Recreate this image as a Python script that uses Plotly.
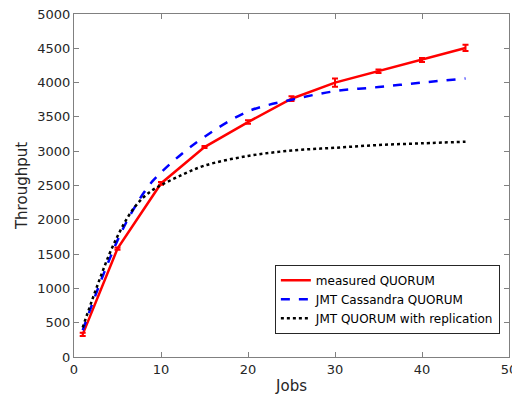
import plotly.graph_objects as go

jobs_meas = [1, 5, 10, 15, 20, 25, 30, 35, 40, 45]
thr_meas = [330, 1580, 2530, 3060, 3425, 3765, 4000, 4165, 4330, 4505]
err_meas = [25, 15, 20, 15, 25, 35, 60, 25, 30, 45]

jobs_model = [1, 2, 3, 4, 5, 6, 7, 8, 9, 10, 12, 15, 20, 25, 30, 35, 40, 45]
thr_cass = [390, 740, 1080, 1400, 1700, 1960, 2190, 2390, 2560, 2690, 2920, 3210, 3580, 3750, 3875, 3935, 4000, 4060]
thr_repl = [430, 800, 1150, 1480, 1760, 2000, 2190, 2330, 2430, 2505, 2630, 2790, 2930, 3010, 3050, 3090, 3115, 3138]

x_ticks = [0, 10, 20, 30, 40, 50]
y_ticks = [0, 500, 1000, 1500, 2000, 2500, 3000, 3500, 4000, 4500, 5000]

fig = go.Figure()
fig.add_trace(go.Scatter(
    x=jobs_meas, y=thr_meas, mode="lines", name="measured QUORUM",
    line=dict(color="#ff0000", width=2.5),
    error_y=dict(type="data", array=err_meas, color="#ff0000", thickness=2, width=3),
))
fig.add_trace(go.Scatter(
    x=jobs_model, y=thr_cass, mode="lines", name="JMT Cassandra QUORUM",
    line=dict(color="#0000ff", width=2.5, dash="dash", shape="spline"),
))
fig.add_trace(go.Scatter(
    x=jobs_model, y=thr_repl, mode="lines", name="JMT QUORUM with replication",
    line=dict(color="#000000", width=2.5, dash="dot", shape="spline"),
))

axis_common = dict(
    showgrid=False, zeroline=False, showline=True, linecolor="#808080", linewidth=1,
    mirror="ticks", ticks="inside", ticklen=5, tickcolor="#808080", automargin=False,
    ticklabeloverflow="allow",
    tickfont=dict(family="DejaVu Sans", size=13, color="#262626"),
)
fig.update_xaxes(range=[0, 50], tickvals=x_ticks,
                 title=dict(text="Jobs", font=dict(family="DejaVu Sans", size=15, color="#262626"), standoff=4),
                 **axis_common)
fig.update_yaxes(range=[0, 5000], tickvals=y_ticks,
                 title=dict(text="Throughput", font=dict(family="DejaVu Sans", size=15, color="#262626"), standoff=6),
                 **axis_common)

# page body adds an 8px offset; compensate with a slightly smaller figure
fig.update_layout(
    width=512, height=391,
    margin=dict(l=66, r=11, t=6, b=42),
    plot_bgcolor="white", paper_bgcolor="white",
    legend=dict(
        x=0.979, xanchor="right", y=0.068, yanchor="bottom",
        bgcolor="white", bordercolor="#262626", borderwidth=1,
        font=dict(family="DejaVu Sans", size=12, color="#000000"),
        tracegroupgap=0, itemwidth=30,
    ),
)

fig.write_html("out.html")
